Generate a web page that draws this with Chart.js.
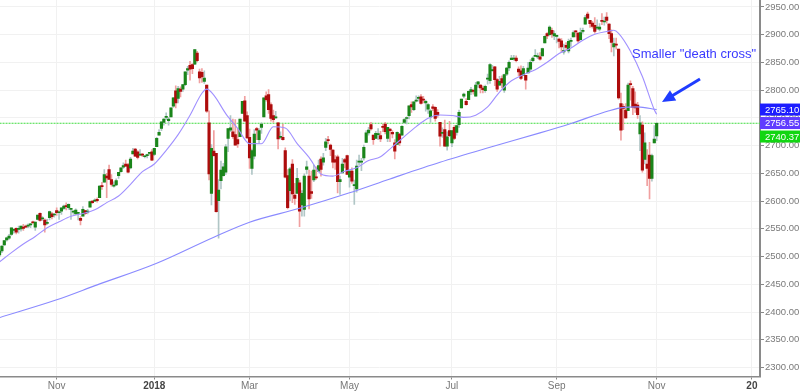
<!DOCTYPE html>
<html>
<head>
<meta charset="utf-8">
<script src="https://cdn.jsdelivr.net/npm/chart.js@4.4.0/dist/chart.umd.min.js"></script>
<style>
  html, body { margin: 0; padding: 0; background: #fff; }
</style>
</head>
<body>
<canvas id="chart" width="800" height="392"></canvas>
<script>
// daily candles [open, high, low, close], index 0 = Sep 28 2017
const candles = [
  // Sep 2017
  [2503,2510,2500,2510],[2510,2520,2507,2519],
  // Oct 2017
  [2521,2529,2520,2529],[2530,2535,2528,2534],[2533,2540,2531,2537],[2540,2552,2538,2552],[2547,2550,2542,2549],
  [2551,2552,2541,2544],[2549,2555,2542,2550],[2550,2555,2546,2555],[2553,2558,2547,2551],[2555,2557,2552,2553],
  [2555,2559,2552,2557],[2557,2560,2552,2559],[2562,2564,2559,2561],[2553,2562,2547,2562],[2567,2575,2566,2575],
  [2578,2579,2564,2565],[2568,2572,2565,2569],[2566,2568,2544,2557],[2560,2567,2558,2560],[2570,2582,2566,2581],
  [2577,2580,2568,2572],[2575,2578,2571,2575],
  // Nov 2017
  [2583,2588,2574,2579],[2579,2582,2567,2580],[2582,2588,2576,2588],
  [2587,2593,2585,2591],[2592,2597,2584,2590],[2588,2595,2585,2594],[2585,2587,2567,2585],[2580,2583,2576,2582],
  [2577,2586,2576,2584],[2578,2580,2566,2579],[2569,2572,2557,2565],[2573,2590,2573,2585],[2583,2583,2576,2578],
  [2580,2585,2577,2582],[2589,2600,2589,2599],[2600,2601,2596,2597],[2600,2604,2599,2602],
  [2603,2606,2598,2601],[2606,2628,2606,2627],[2628,2634,2621,2626],[2634,2657,2634,2648],
  // Dec 2017
  [2645,2650,2606,2642],
  [2657,2665,2639,2639],[2639,2648,2627,2630],[2627,2635,2625,2629],[2629,2640,2628,2637],[2646,2652,2641,2652],
  [2653,2660,2652,2660],[2661,2669,2659,2664],[2667,2674,2662,2663],[2666,2668,2651,2652],[2660,2679,2658,2676],
  [2685,2695,2685,2690],[2694,2695,2680,2681],[2689,2691,2676,2679],[2683,2693,2682,2684],[2684,2686,2680,2683],
  [2680,2682,2678,2680],[2682,2685,2678,2682],[2686,2688,2683,2688],[2689,2693,2673,2674],
  // Jan 2018
  [2684,2695,2682,2695],[2698,2715,2698,2713],[2719,2729,2719,2724],[2731,2743,2727,2743],
  [2742,2749,2737,2748],[2751,2759,2747,2751],[2745,2751,2737,2748],[2752,2768,2752,2768],[2771,2787,2769,2786],
  [2799,2808,2768,2777],[2785,2807,2777,2803],[2802,2806,2788,2798],[2802,2810,2798,2810],
  [2810,2833,2808,2833],[2836,2843,2828,2839],[2845,2852,2818,2838],[2846,2848,2830,2839],[2847,2873,2846,2873],
  [2867,2870,2851,2853],[2833,2838,2813,2822],[2832,2839,2814,2824],
  // Feb 2018
  [2816,2835,2812,2822],[2809,2809,2760,2762],
  [2741,2763,2638,2649],[2614,2702,2593,2695],[2690,2727,2681,2682],[2686,2686,2580,2581],[2601,2639,2533,2620],
  [2637,2672,2622,2656],[2646,2668,2645,2662],[2652,2702,2648,2698],[2713,2731,2689,2731],[2728,2754,2725,2732],
  [2725,2748,2713,2716],[2720,2747,2701,2701],[2711,2731,2697,2703],[2716,2748,2716,2748],
  [2758,2780,2758,2780],[2781,2789,2744,2744],[2754,2761,2713,2714],
  // Mar 2018
  [2715,2730,2659,2678],[2659,2694,2648,2691],
  [2681,2729,2676,2721],[2731,2733,2711,2728],[2711,2731,2704,2727],[2733,2741,2722,2739],[2752,2786,2752,2786],
  [2790,2797,2780,2783],[2792,2801,2758,2765],[2774,2777,2744,2749],[2754,2764,2742,2747],[2750,2762,2749,2752],
  [2741,2742,2694,2712],[2715,2725,2712,2717],[2715,2739,2710,2711],[2691,2696,2642,2643],[2646,2657,2586,2588],
  [2619,2661,2601,2658],[2667,2675,2597,2613],[2611,2632,2594,2605],[2614,2659,2614,2641],
  // Apr 2018
  [2633,2638,2554,2582],[2593,2619,2573,2614],[2585,2649,2573,2645],[2657,2672,2649,2662],[2645,2656,2586,2604],
  [2617,2654,2605,2614],[2638,2665,2635,2656],[2643,2662,2639,2642],[2654,2674,2653,2664],[2676,2680,2645,2657],
  [2670,2686,2665,2678],[2697,2713,2691,2707],[2710,2717,2703,2709],[2701,2703,2682,2693],[2692,2693,2660,2670],
  [2675,2682,2657,2670],[2680,2683,2615,2635],[2635,2645,2612,2639],[2651,2677,2651,2667],[2675,2677,2660,2670],
  [2682,2683,2648,2648],
  // May 2018
  [2643,2655,2625,2654],[2654,2660,2632,2636],[2628,2638,2594,2630],[2622,2674,2616,2663],
  [2670,2683,2665,2672],[2670,2677,2655,2672],[2678,2701,2674,2697],[2706,2727,2706,2723],[2723,2733,2719,2728],
  [2738,2742,2728,2730],[2719,2719,2702,2711],[2713,2726,2712,2722],[2720,2731,2711,2720],[2718,2726,2707,2712],
  [2735,2739,2725,2733],[2739,2742,2721,2725],[2713,2733,2707,2733],[2730,2731,2707,2727],[2724,2727,2714,2721],
  [2705,2711,2676,2690],[2702,2725,2702,2724],[2721,2722,2700,2705],
  // Jun 2018
  [2719,2736,2719,2735],
  [2742,2749,2740,2747],[2749,2752,2739,2749],[2754,2772,2748,2772],[2774,2779,2760,2770],[2765,2779,2763,2779],
  [2780,2790,2779,2782],[2785,2790,2780,2787],[2788,2792,2775,2776],[2784,2789,2777,2782],[2777,2782,2762,2780],
  [2766,2776,2758,2774],[2752,2765,2742,2763],[2770,2774,2763,2767],[2769,2770,2744,2749],[2760,2765,2751,2755],
  [2742,2742,2699,2717],[2722,2732,2715,2723],[2729,2746,2699,2699],[2699,2725,2692,2716],[2727,2744,2716,2718],
  // Jul 2018
  [2705,2727,2698,2727],[2733,2736,2711,2713],[2724,2737,2719,2736],[2738,2764,2733,2760],
  [2768,2784,2768,2784],[2789,2795,2786,2793],[2780,2785,2773,2774],[2783,2799,2783,2798],[2797,2805,2792,2801],
  [2799,2802,2793,2798],[2789,2814,2789,2809],[2811,2816,2805,2815],[2809,2810,2795,2804],[2804,2808,2795,2801],
  [2799,2809,2796,2807],[2820,2829,2811,2821],[2817,2848,2812,2846],[2835,2845,2834,2837],[2842,2843,2808,2819],
  [2819,2821,2798,2802],[2809,2825,2808,2816],
  // Aug 2018
  [2821,2826,2804,2813],[2800,2829,2796,2828],[2829,2841,2826,2840],
  [2840,2853,2835,2850],[2855,2863,2855,2858],[2856,2863,2854,2857],[2858,2862,2851,2853],[2838,2842,2826,2833],
  [2835,2844,2819,2821],[2827,2843,2826,2839],[2827,2827,2802,2818],[2831,2850,2831,2840],[2838,2855,2834,2850],
  [2853,2860,2851,2858],[2861,2873,2861,2862],[2860,2867,2857,2861],[2860,2868,2854,2856],[2862,2876,2862,2875],
  [2885,2898,2885,2897],[2902,2904,2893,2898],[2900,2916,2898,2914],[2908,2912,2895,2901],[2898,2907,2891,2902],
  // Sep 2018
  [2897,2900,2885,2897],[2892,2894,2876,2888],[2889,2893,2869,2878],[2869,2883,2865,2872],
  [2881,2886,2873,2877],[2871,2892,2867,2888],[2888,2894,2879,2888],[2896,2907,2896,2904],[2906,2908,2896,2905],
  [2903,2904,2886,2889],[2891,2912,2890,2904],[2906,2912,2903,2907],[2919,2935,2919,2931],[2937,2941,2928,2930],
  [2926,2926,2913,2920],[2921,2924,2912,2915],[2917,2931,2903,2906],[2912,2927,2909,2914],[2910,2920,2907,2914],
  // Oct 2018
  [2926,2938,2918,2924],[2923,2932,2917,2923],[2932,2940,2921,2926],[2919,2920,2893,2902],[2902,2909,2869,2886],
  [2878,2894,2862,2884],[2883,2894,2874,2881],[2874,2874,2784,2786],[2776,2795,2710,2728],[2771,2775,2729,2767],
  [2764,2776,2749,2750],[2763,2813,2763,2809],[2811,2817,2782,2810],[2803,2807,2756,2769],[2775,2797,2760,2768],
  [2773,2778,2749,2756],[2721,2754,2691,2741],[2737,2743,2652,2656],[2675,2723,2667,2705],[2667,2693,2628,2659],
  [2683,2706,2604,2641],[2641,2685,2636,2682],[2705,2736,2705,2712],
  // Nov 2018
  [2717.58,2741.67,2708.85,2740.37]
];

// 20-day average, read at these candle indices
const ma20Idx = [0,5,10,15,20,25,30,35,40,45,50,55,60,65,70,75,80,85,87,90,95,100,105,110,115,120,125,130,135,140,
  145,150,155,160,165,170,175,180,185,190,195,200,205,210,215,220,225,230,235,240,245,250,255,258,260,265,270,275,276];
const ma20 = [2490.4,2507.1,2522.6,2536.3,2551.9,2562.7,2572.7,2577.8,2584.4,2597.3,2609.2,2630.2,2653.2,2666.9,
  2691.5,2719.9,2754.9,2794.5,2801.9,2791.1,2757.8,2731.1,2703.7,2703.5,2734.2,2731.8,2703.8,2678.9,2649.0,2645.1,
  2653.9,2660.1,2673.1,2680.0,2697.9,2716.4,2734.4,2749.6,2755.2,2754.3,2751.0,2755.0,2769.9,2796.7,2816.9,2828.0,
  2837.0,2850.4,2866.0,2876.0,2890.1,2900.8,2905.8,2908.0,2902.6,2870.3,2824.7,2764.6,2756.55];

// 200-day average, read at these candle indices
const ma200Idx = [0,24,41,66,90,105,126,147,164,185,206,227,240,256,262,268,276];
const ma200 = [2390,2422,2449,2488,2535,2562,2587,2615,2640,2670,2697,2723,2740,2763,2769,2770,2765.10];

const tickIdx = [24,65,105,147,190,234,276,316];
const tickLabels = ['Nov','2018','Mar','May','Jul','Sep','Nov','20'];
const yTicks = [2300,2350,2400,2450,2500,2550,2600,2650,2700,2750,2800,2850,2900,2950];
const lastClose = 2740.37;

const FONT = '"Liberation Sans", Arial, sans-serif';
const upBody = '#1a851a', downBody = '#ad0c0c';
const upWick = '#b0c6c6', downWick = '#f0a0a0';

function isUp(c) { return c[3] >= c[0]; }

const overlay = {
  id: 'overlay',
  afterDraw(chart) {
    const ctx = chart.ctx;
    const y = chart.scales.y;
    const tags = [[2765.10, '#1d1dff'], [2756.55, '#603cff'], [lastClose, '#12d612']];
    let prev = -100;
    ctx.save();
    ctx.font = '9.5px ' + FONT;
    ctx.textBaseline = 'middle';
    tags.forEach(function (t) {
      let cy = Math.max(y.getPixelForValue(t[0]), prev + 13.5);
      ctx.fillStyle = t[1];
      ctx.fillRect(760, cy - 6, 40, 12);
      ctx.fillStyle = '#fff';
      ctx.fillText(t[0].toFixed(2), 765, cy + 0.5);
      prev = cy;
    });

    // note + arrow
    ctx.fillStyle = '#3a3aff';
    ctx.font = '13px ' + FONT;
    ctx.fillText('Smaller "death cross"', 632, 54.5);

    const x1 = 700, y1 = 79, x2 = 662, y2 = 102;
    const a = Math.atan2(y2 - y1, x2 - x1);
    const cos = Math.cos(a), sin = Math.sin(a);
    ctx.strokeStyle = '#1f3cff';
    ctx.fillStyle = '#1f3cff';
    ctx.lineWidth = 3;
    ctx.beginPath();
    ctx.moveTo(x1, y1);
    ctx.lineTo(x2 - 10 * cos, y2 - 10 * sin);
    ctx.stroke();
    ctx.beginPath();
    ctx.moveTo(x2, y2);
    ctx.lineTo(x2 - 13 * cos + 6 * sin, y2 - 13 * sin - 6 * cos);
    ctx.lineTo(x2 - 13 * cos - 6 * sin, y2 - 13 * sin + 6 * cos);
    ctx.closePath();
    ctx.fill();
    ctx.restore();
  }
};

const ctx = document.getElementById('chart').getContext('2d');
new Chart(ctx, {
  type: 'bar',
  data: {
    datasets: [
      {
        type: 'line', data: ma20Idx.map((x, i) => ({ x: x, y: ma20[i] })),
        borderColor: '#a090ff', borderWidth: 1.1, pointRadius: 0,
        cubicInterpolationMode: 'monotone', order: 1
      },
      {
        type: 'line', data: ma200Idx.map((x, i) => ({ x: x, y: ma200[i] })),
        borderColor: '#8a8aff', borderWidth: 1.1, pointRadius: 0,
        cubicInterpolationMode: 'monotone', order: 1
      },
      {
        data: candles.map((c, i) => ({ x: i, y: [c[0], c[3]] })),
        backgroundColor: candles.map(c => isUp(c) ? upBody : downBody),
        barThickness: 2.5, minBarLength: 1, grouped: false, order: 2
      },
      {
        data: candles.map((c, i) => ({ x: i, y: [c[2], c[1]] })),
        backgroundColor: candles.map(c => isUp(c) ? upWick : downWick),
        barThickness: 1, grouped: false, order: 3
      },
      {
        type: 'line', data: [{ x: 0, y: lastClose }, { x: 330, y: lastClose }],
        borderColor: '#3fdc3f', borderWidth: 1, borderDash: [2, 1], pointRadius: 0, order: 4
      }
    ]
  },
  options: {
    responsive: false,
    animation: false,
    devicePixelRatio: 1,
    layout: { padding: 0 },
    plugins: { legend: { display: false }, tooltip: { enabled: false } },
    scales: {
      x: {
        type: 'linear', min: 0.19, max: 319.4, offset: false,
        grid: { color: '#f1f1f1', offset: false, tickLength: 3, tickColor: '#888' },
        border: { color: '#8a8a8a', width: 1.5 },
        afterBuildTicks: s => { s.ticks = tickIdx.map(v => ({ value: v })); },
        afterFit: s => { s.height = 15.5; s.paddingLeft = 0; s.paddingRight = 0; },
        ticks: {
          autoSkip: false, maxRotation: 0, padding: 1,
          callback: (v, i) => tickLabels[i],
          color: c => /^20/.test(tickLabels[c.index]) ? '#444' : '#777',
          font: c => ({ family: FONT, size: 10, weight: /^20/.test(tickLabels[c.index]) ? 'bold' : 'normal' })
        }
      },
      y: {
        position: 'right', min: 2283.8, max: 2962.6,
        grid: { color: '#f1f1f1', tickLength: 4, tickColor: '#888' },
        border: { color: '#8a8a8a', width: 2 },
        afterBuildTicks: s => { s.ticks = yTicks.map(v => ({ value: v })); },
        afterFit: s => { s.width = 40; s.paddingTop = 0; s.paddingBottom = 0; },
        ticks: {
          padding: 1, color: '#7a7a7a', font: { family: FONT, size: 9.5 },
          callback: v => Number(v).toFixed(2)
        }
      }
    }
  },
  plugins: [overlay]
});
</script>
</body>
</html>
